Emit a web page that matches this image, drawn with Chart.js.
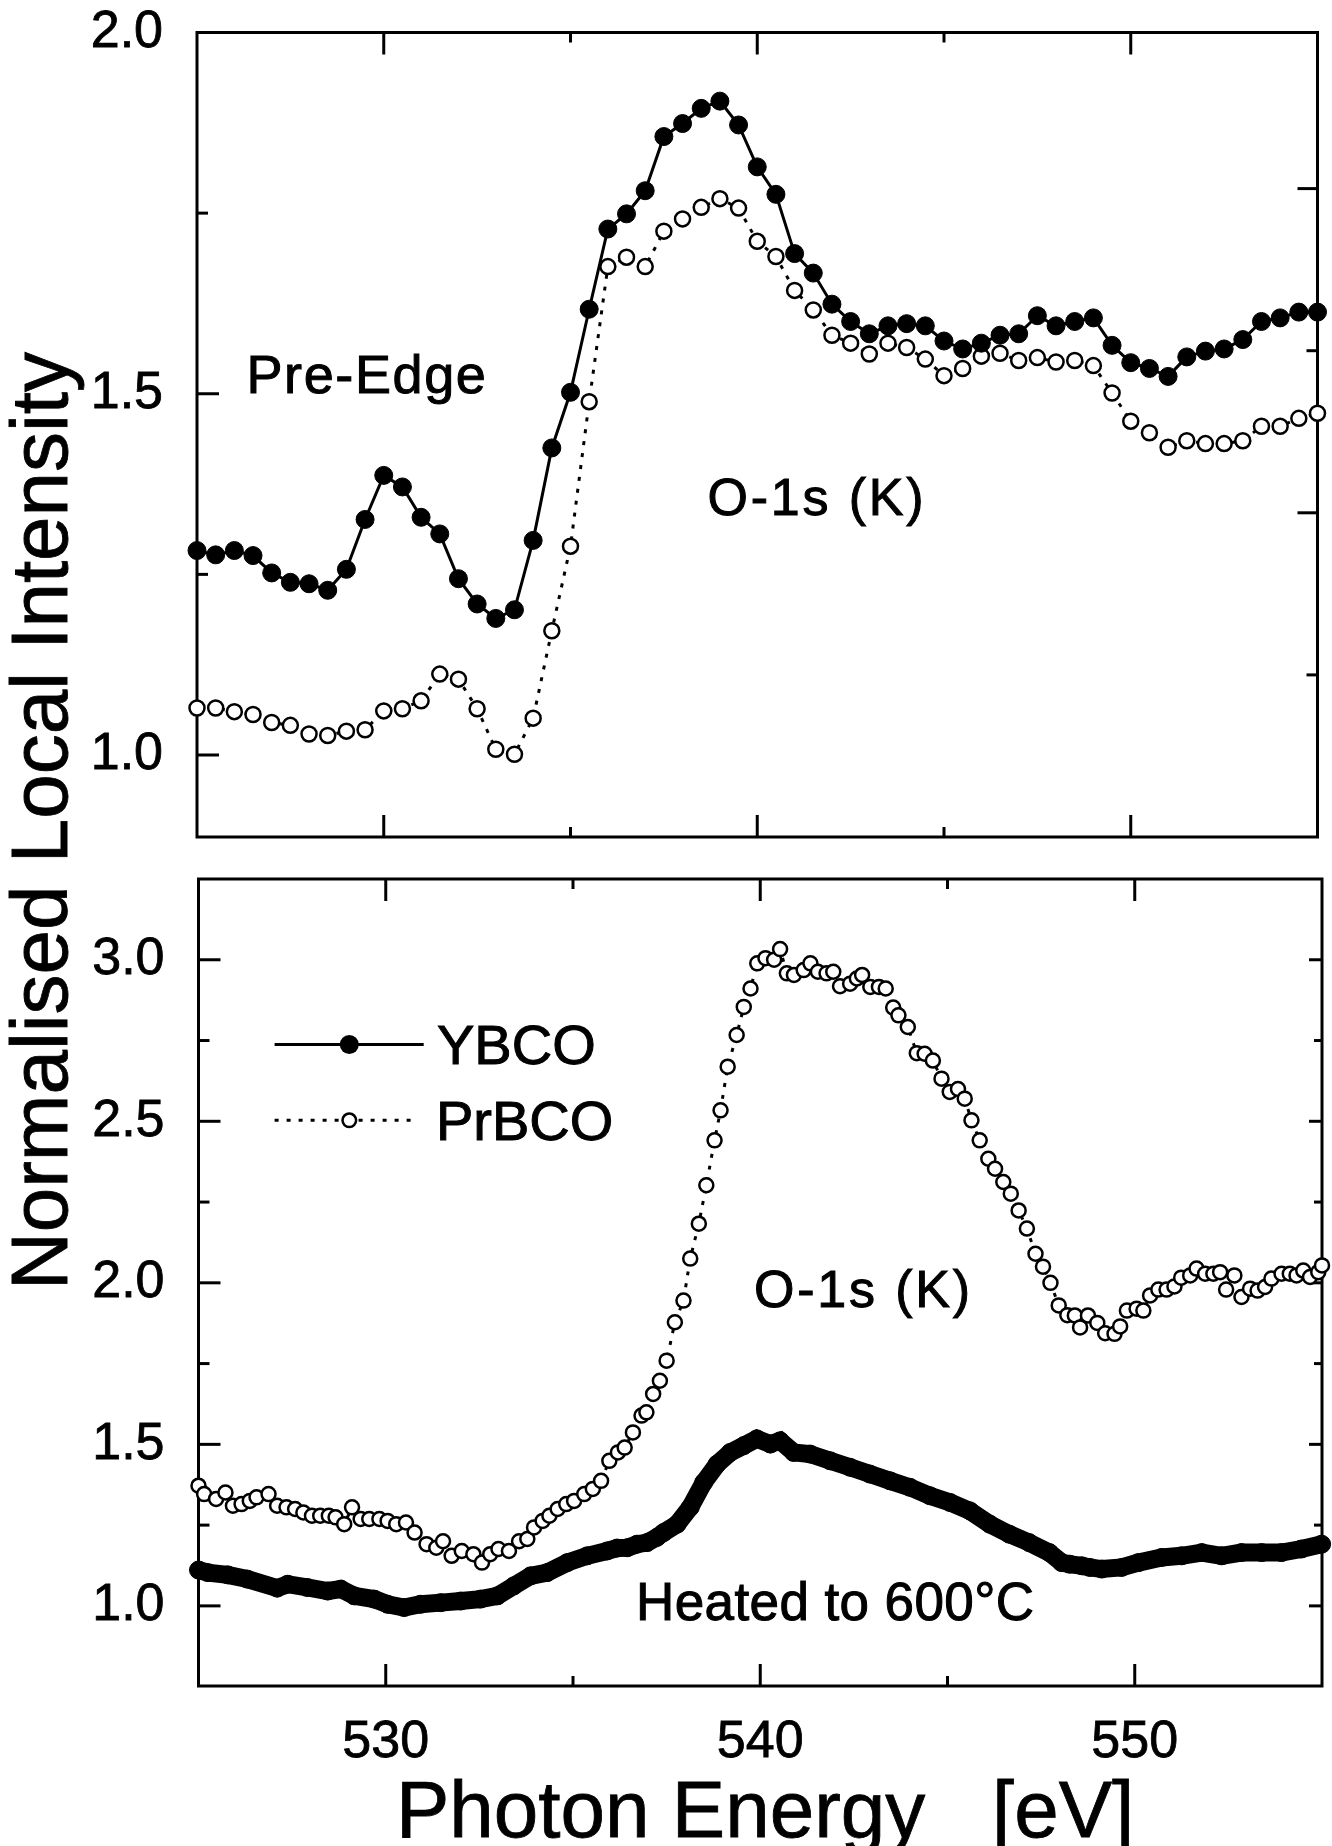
<!DOCTYPE html>
<html><head><meta charset="utf-8">
<script src="https://cdn.jsdelivr.net/npm/chart.js@4.4.1/dist/chart.umd.min.js"></script>
<style>
html,body{margin:0;padding:0;background:#fff;width:1332px;height:1846px;overflow:hidden;}
#wrap{position:relative;width:1332px;height:1846px;font-family:"Liberation Sans",Arial,sans-serif;color:#000;}
canvas{position:absolute;left:0;}
.t{position:absolute;white-space:pre;line-height:1;-webkit-text-stroke:1px #000;}
</style></head><body><div id="wrap">
<canvas id="topChart" width="1332" height="880" style="top:0;width:1332px;height:880px"></canvas>
<canvas id="botChart" width="1332" height="1006" style="top:840px;width:1332px;height:1006px"></canvas>
<div class="t" style="left:246.5px;top:347px;font-size:54px;letter-spacing:1.6px">Pre-Edge</div>
<div class="t" style="left:707.5px;top:471px;font-size:52px;letter-spacing:2.8px">O-1s (K)</div>
<div class="t" style="left:754px;top:1262.5px;font-size:52px;letter-spacing:2.8px">O-1s (K)</div>
<div class="t" style="left:636px;top:1575px;font-size:53px;letter-spacing:0.4px">Heated to 600°C</div>
<div class="t" style="left:437px;top:1017px;font-size:56px">YBCO</div>
<div class="t" style="left:436px;top:1093px;font-size:56px">PrBCO</div>
<div class="t" style="left:396px;top:1770px;font-size:80px;-webkit-text-stroke:0.8px #000">Photon Energy   [eV]</div>
<div class="t" style="left:-460.5px;top:781px;width:1000px;height:80px;font-size:80px;text-align:center;transform:rotate(-90deg);-webkit-text-stroke:0.8px #000">Normalised Local Intensity</div>
</div>
<script>
// ---------- data ----------
const topEnergies = [525,525.5,526,526.5,527,527.5,528,528.5,529,529.5,530,530.5,531,531.5,532,532.5,533,533.5,534,534.5,535,535.5,536,536.5,537,537.5,538,538.5,539,539.5,540,540.5,541,541.5,542,542.5,543,543.5,544,544.5,545,545.5,546,546.5,547,547.5,548,548.5,549,549.5,550,550.5,551,551.5,552,552.5,553,553.5,554,554.5,555];
const ybcoTop = [1.283,1.277,1.283,1.276,1.252,1.239,1.237,1.228,1.257,1.326,
  1.387,1.371,1.329,1.306,1.244,1.209,1.189,1.201,1.297,1.425,
  1.502,1.617,1.728,1.749,1.781,1.856,1.874,1.895,1.905,1.872,
  1.814,1.776,1.694,1.667,1.624,1.600,1.583,1.594,1.597,1.594,
  1.573,1.562,1.570,1.581,1.583,1.608,1.594,1.600,1.605,1.567,
  1.543,1.535,1.524,1.551,1.559,1.562,1.575,1.600,1.605,1.613,1.613];
const prbcoTop = [1.065,1.065,1.060,1.056,1.045,1.041,1.029,1.027,1.033,1.035,
  1.061,1.064,1.075,1.112,1.105,1.064,1.008,1.001,1.051,1.172,
  1.289,1.489,1.676,1.689,1.676,1.725,1.742,1.758,1.770,1.757,
  1.711,1.690,1.643,1.616,1.581,1.570,1.555,1.570,1.564,1.548,
  1.525,1.535,1.552,1.556,1.546,1.550,1.544,1.546,1.539,1.501,
  1.462,1.446,1.426,1.435,1.431,1.431,1.435,1.455,1.455,1.466,1.473];

const prbcoBotEnergies = [525.0,525.15,525.47,525.72,525.92,526.15,526.37,526.55,526.87,527.1,
  527.35,527.58,527.8,528.03,528.25,528.48,528.66,528.89,529.1,529.33,
  529.56,529.83,530.05,530.28,530.54,530.77,531.09,531.35,531.53,531.76,
  532.03,532.34,532.57,532.79,533.01,533.29,533.56,533.78,533.96,534.19,
  534.37,534.59,534.82,535.03,535.3,535.53,535.75,535.97,536.2,536.38,
  536.6,536.83,536.96,537.14,537.32,537.5,537.72,537.95,538.13,538.36,
  538.56,538.78,538.94,539.13,539.37,539.56,539.74,539.92,540.14,540.37,
  540.53,540.71,540.9,541.16,541.34,541.54,541.77,541.95,542.13,542.4,
  542.58,542.72,542.94,543.17,543.35,543.55,543.69,543.94,544.18,544.39,
  544.61,544.84,545.06,545.28,545.46,545.64,545.86,546.09,546.27,546.49,
  546.69,546.9,547.12,547.35,547.55,547.75,547.97,548.2,548.4,548.54,
  548.75,549.0,549.21,549.46,549.61,549.79,550.05,550.23,550.41,550.63,
  550.85,551.06,551.24,551.48,551.65,551.88,552.1,552.28,552.44,552.66,
  552.85,553.08,553.28,553.48,553.65,553.92,554.14,554.32,554.5,554.68,
  554.9,555.0];
const prbcoBot = [1.372,1.346,1.331,1.351,1.310,1.315,1.325,1.336,1.346,1.310,
  1.305,1.300,1.289,1.279,1.279,1.279,1.274,1.253,1.305,1.269,
  1.269,1.269,1.263,1.253,1.258,1.227,1.191,1.180,1.200,1.155,
  1.170,1.160,1.134,1.160,1.176,1.170,1.200,1.207,1.243,1.263,
  1.279,1.300,1.315,1.325,1.346,1.362,1.387,1.449,1.475,1.490,
  1.537,1.589,1.599,1.656,1.697,1.759,1.878,1.945,2.075,2.183,
  2.302,2.441,2.534,2.669,2.767,2.854,2.911,2.989,3.005,3.000,
  3.033,2.958,2.953,2.968,2.989,2.963,2.958,2.963,2.918,2.926,
  2.942,2.953,2.916,2.916,2.911,2.852,2.828,2.792,2.711,2.709,
  2.688,2.632,2.591,2.600,2.570,2.503,2.441,2.384,2.353,2.312,
  2.276,2.224,2.168,2.090,2.050,2.000,1.930,1.900,1.899,1.862,
  1.899,1.876,1.844,1.842,1.865,1.914,1.920,1.914,1.961,1.979,
  1.979,1.989,2.016,2.023,2.044,2.028,2.028,2.033,1.979,2.023,
  1.956,1.982,1.976,1.987,2.013,2.028,2.028,2.023,2.038,2.018,
  2.033,2.054];

const ybcoBotEnergies = [525.0,525.25,525.78,526.3,527.1,527.38,527.9,528.45,528.8,529.16,
  529.69,530.05,530.49,530.93,531.47,532.0,532.53,532.98,533.42,533.87,
  534.31,534.85,535.38,535.91,536.18,536.45,536.71,536.98,537.24,537.42,
  537.78,538.13,538.49,538.85,539.2,539.56,539.91,540.27,540.53,540.89,
  541.33,541.87,542.4,542.93,543.47,544.0,544.53,545.07,545.6,546.13,
  546.65,547.18,547.72,548.05,548.26,548.59,548.8,549.12,549.65,550.1,
  550.72,551.25,551.79,552.32,552.85,553.39,553.92,554.45,554.99];
const ybcoBot = [1.111,1.103,1.096,1.083,1.055,1.067,1.057,1.046,1.052,1.031,
  1.021,1.005,0.995,1.005,1.010,1.015,1.021,1.031,1.062,1.093,
  1.103,1.134,1.155,1.170,1.179,1.180,1.191,1.196,1.212,1.227,
  1.253,1.305,1.382,1.439,1.475,1.496,1.517,1.501,1.511,1.475,
  1.470,1.449,1.429,1.408,1.387,1.367,1.341,1.320,1.294,1.253,
  1.222,1.196,1.165,1.134,1.129,1.124,1.119,1.114,1.119,1.134,
  1.150,1.155,1.165,1.155,1.165,1.165,1.165,1.176,1.191];

// tick values
const xLabelTicks = [530, 540, 550];
const xMinorTicks = [535, 545];
const yTopLabelTicks = [1.0, 1.5, 2.0];
const yTopMinorTicks = [1.25, 1.75];
const yTopRightMajor = [2, 4];
const yTopRightMinor = [1, 3];
const yBotLabelTicks = [1.0, 1.5, 2.0, 2.5, 3.0];
const yBotMinorTicks = [1.25, 1.75, 2.25, 2.75];

// ---------- drawing ----------
Chart.defaults.font.family = '"Liberation Sans", Arial, sans-serif';
Chart.defaults.color = '#000';

const pairs = (xs, ys) => xs.map((x, i) => ({x: x, y: ys[i]}));

const framePlugin = {
  id: 'frame',
  beforeDatasetsDraw(chart, args, o) {
    const ctx = chart.ctx, a = chart.chartArea;
    const sx = chart.scales.x, sy = chart.scales.y;
    const sr = chart.scales[o.rightScale] || sy;
    ctx.save();
    ctx.strokeStyle = '#000';
    ctx.lineWidth = 3;
    ctx.lineCap = 'butt';
    ctx.strokeRect(a.left, a.top, a.right - a.left, a.bottom - a.top);
    const seg = (x1, y1, x2, y2) => { ctx.beginPath(); ctx.moveTo(x1, y1); ctx.lineTo(x2, y2); ctx.stroke(); };
    const xt = (vals, len) => vals.forEach(v => { const p = sx.getPixelForValue(v); seg(p, a.bottom, p, a.bottom - len); seg(p, a.top, p, a.top + len); });
    const yl = (vals, len) => vals.forEach(v => { const p = sy.getPixelForValue(v); seg(a.left, p, a.left + len, p); });
    const yr = (vals, len) => vals.forEach(v => { const p = sr.getPixelForValue(v); seg(a.right, p, a.right - len, p); });
    xt(o.xMajor, 22); xt(o.xMinor, 10);
    yl(o.yMajor, 22); yl(o.yMinor, 11);
    yr(o.rMajor, o.rMajorLen); yr(o.rMinor, o.rMinorLen);
    ctx.restore();
  }
};

const legendPlugin = {
  id: 'sampleLegend',
  afterDatasetsDraw(chart) {
    const ctx = chart.ctx;
    ctx.save();
    ctx.strokeStyle = '#000';
    ctx.lineWidth = 3;
    ctx.beginPath(); ctx.moveTo(274.6, 204.5); ctx.lineTo(423.7, 204.5); ctx.stroke();
    ctx.fillStyle = '#000';
    ctx.beginPath(); ctx.arc(349.3, 204.5, 9.5, 0, Math.PI * 2); ctx.fill();
    ctx.setLineDash([4, 8]);
    ctx.beginPath(); ctx.moveTo(274.6, 280.3); ctx.lineTo(410.6, 280.3); ctx.stroke();
    ctx.setLineDash([]);
    ctx.fillStyle = '#fff';
    ctx.lineWidth = 2.5;
    ctx.beginPath(); ctx.arc(349.3, 280.3, 6.8, 0, Math.PI * 2); ctx.fill(); ctx.stroke();
    ctx.restore();
  }
};

const tickFont = {size: 52};
const tickStroke = {textStrokeColor: '#000', textStrokeWidth: 0.8};

new Chart(document.getElementById('topChart'), {
  type: 'line',
  data: {datasets: [
    {label: 'YBCO', data: pairs(topEnergies, ybcoTop), borderColor: '#000', borderWidth: 3,
     pointRadius: 9, pointBackgroundColor: '#000', pointBorderColor: '#000', pointBorderWidth: 1, clip: false},
    {label: 'PrBCO', data: pairs(topEnergies, prbcoTop), borderColor: '#000', borderWidth: 3, borderDash: [4, 8],
     pointRadius: 7.5, pointBackgroundColor: '#fff', pointBorderColor: '#000', pointBorderWidth: 2.5, clip: false}
  ]},
  options: {
    responsive: false, animation: false, devicePixelRatio: 1,
    layout: {padding: {left: 0, top: 32.5, right: 14.5, bottom: 43}},
    plugins: {legend: {display: false}, tooltip: {enabled: false},
      frame: {xMajor: xLabelTicks, xMinor: xMinorTicks, yMajor: yTopLabelTicks, yMinor: yTopMinorTicks,
              rightScale: 'y2', rMajor: yTopRightMajor, rMinor: yTopRightMinor, rMajorLen: 20, rMinorLen: 11}},
    scales: {
      x: {type: 'linear', min: 525, max: 555, display: false},
      y: {type: 'linear', position: 'left', min: 0.8865, max: 2.0,
          grid: {display: false}, border: {display: false},
          afterBuildTicks: s => { s.ticks = yTopLabelTicks.map(v => ({value: v})); },
          afterFit: s => { s.width = 197; s.paddingTop = 0; s.paddingBottom = 0; },
          ticks: Object.assign({font: tickFont, color: '#000', padding: 26, callback: v => Number(v).toFixed(1)}, tickStroke)},
      y2: {type: 'linear', position: 'right', min: 0, max: 4.963, display: false}
    }
  },
  plugins: [framePlugin]
});

new Chart(document.getElementById('botChart'), {
  type: 'line',
  data: {datasets: [
    {label: 'YBCO', data: pairs(ybcoBotEnergies, ybcoBot), borderColor: '#000', borderWidth: 18,
     pointRadius: 9, pointBackgroundColor: '#000', pointBorderColor: '#000', pointBorderWidth: 1, clip: false},
    {label: 'PrBCO', data: pairs(prbcoBotEnergies, prbcoBot), borderColor: '#000', borderWidth: 3, borderDash: [4, 8],
     pointRadius: 7, pointBackgroundColor: '#fff', pointBorderColor: '#000', pointBorderWidth: 2.5, clip: false}
  ]},
  options: {
    responsive: false, animation: false, devicePixelRatio: 1,
    layout: {padding: {left: 0, top: 39, right: 6, bottom: 0}},
    plugins: {legend: {display: false}, tooltip: {enabled: false},
      frame: {xMajor: xLabelTicks, xMinor: xMinorTicks, yMajor: yBotLabelTicks, yMinor: yBotMinorTicks,
              rightScale: 'y', rMajor: yBotLabelTicks, rMinor: yBotMinorTicks, rMajorLen: 13, rMinorLen: 8}},
    scales: {
      x: {type: 'linear', position: 'bottom', min: 525, max: 555,
          grid: {display: false}, border: {display: false},
          afterBuildTicks: s => { s.ticks = xLabelTicks.map(v => ({value: v})); },
          afterFit: s => { s.height = 160; s.paddingLeft = 0; s.paddingRight = 0; },
          ticks: Object.assign({font: tickFont, color: '#000', padding: 17, maxRotation: 0, autoSkip: false, callback: v => String(v)}, tickStroke)},
      y: {type: 'linear', position: 'left', min: 0.752, max: 3.25,
          grid: {display: false}, border: {display: false},
          afterBuildTicks: s => { s.ticks = yBotLabelTicks.map(v => ({value: v})); },
          afterFit: s => { s.width = 198.5; s.paddingTop = 0; s.paddingBottom = 0; },
          ticks: Object.assign({font: tickFont, color: '#000', padding: 26, callback: v => Number(v).toFixed(1)}, tickStroke)}
    }
  },
  plugins: [framePlugin, legendPlugin]
});
</script>
</body></html>
